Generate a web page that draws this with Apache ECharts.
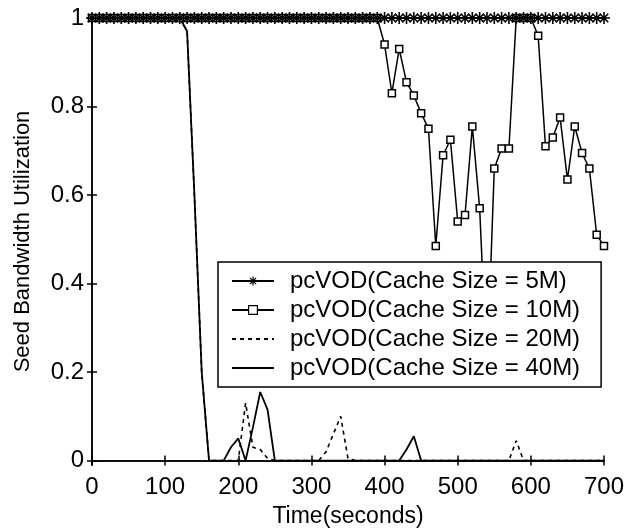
<!DOCTYPE html>
<html>
<head>
<meta charset="utf-8">
<script src="https://cdn.jsdelivr.net/npm/echarts@6/dist/echarts.min.js"></script>
<style>
  html, body { margin: 0; padding: 0; background: #fff; }
  #chart { width: 624px; height: 530px; }
</style>
</head>
<body>
<div id="chart"></div>
<script>
// time axis (seconds), one sample every 10 s
var times = [0, 10, 20, 30, 40, 50, 60, 70, 80, 90, 100, 110, 120, 130, 140, 150, 160, 170, 180, 190,
  200, 210, 220, 230, 240, 250, 260, 270, 280, 290, 300, 310, 320, 330, 340, 350, 360, 370, 380, 390,
  400, 410, 420, 430, 440, 450, 460, 470, 480, 490, 500, 510, 520, 530, 540, 550, 560, 570, 580, 590,
  600, 610, 620, 630, 640, 650, 660, 670, 680, 690, 700]

// cache size = 5M
var cache5M = [1, 1, 1, 1, 1, 1, 1, 1, 1, 1, 1, 1, 1, 1, 1, 1, 1, 1, 1, 1,
  1, 1, 1, 1, 1, 1, 1, 1, 1, 1, 1, 1, 1, 1, 1, 1, 1, 1, 1, 1,
  1, 1, 1, 1, 1, 1, 1, 1, 1, 1, 1, 1, 1, 1, 1, 1, 1, 1, 1, 1,
  1, 1, 1, 1, 1, 1, 1, 1, 1, 1, 1]

// cache size = 10M
var cache10M = [1, 1, 1, 1, 1, 1, 1, 1, 1, 1, 1, 1, 1, 1, 1, 1, 1, 1, 1, 1,
  1, 1, 1, 1, 1, 1, 1, 1, 1, 1, 1, 1, 1, 1, 1, 1, 1, 1, 1, 1,
  0.94, 0.83, 0.93, 0.855, 0.825, 0.785, 0.75, 0.485, 0.69, 0.725, 0.54, 0.555, 0.755, 0.57, 0.2, 0.66, 0.705, 0.705, 1, 1,
  1, 0.96, 0.71, 0.73, 0.775, 0.635, 0.755, 0.695, 0.66, 0.51, 0.485]

// cache size = 20M
var cache20M = [1, 1, 1, 1, 1, 1, 1, 1, 1, 1, 1, 1, 1, 0.97, 0.6, 0.2, 0, 0, 0, 0,
  0, 0.13, 0.03, 0.025, 0.005, 0, 0, 0, 0, 0, 0, 0, 0.02, 0.06, 0.1, 0.005, 0, 0, 0, 0,
  0, 0, 0, 0, 0, 0, 0, 0, 0, 0, 0, 0, 0, 0, 0, 0, 0, 0, 0.045, 0,
  0, 0, 0, 0, 0, 0, 0, 0, 0, 0, 0]

// cache size = 40M
var cache40M = [1, 1, 1, 1, 1, 1, 1, 1, 1, 1, 1, 1, 1, 0.97, 0.6, 0.2, 0, 0, 0, 0.03,
  0.05, 0, 0.075, 0.155, 0.115, 0, 0, 0, 0, 0, 0, 0, 0, 0, 0, 0, 0, 0, 0, 0,
  0, 0, 0, 0.025, 0.055, 0, 0, 0, 0, 0, 0, 0, 0, 0, 0, 0, 0, 0, 0, 0,
  0, 0, 0, 0, 0, 0, 0, 0, 0, 0, 0]

var seriesNames = ['pcVOD(Cache Size = 5M)', 'pcVOD(Cache Size = 10M)', 'pcVOD(Cache Size = 20M)', 'pcVOD(Cache Size = 40M)']
var yTicks = [0, 0.2, 0.4, 0.6, 0.8, 1]

var FONT = '"Liberation Sans", Arial, sans-serif'
// asterisk marker, drawn with strokes only
var STAR = 'path://M0,5L10,5M5,0L5,10M1.5,1.5L8.5,8.5M8.5,1.5L1.5,8.5'

function pairs (ys) {
  return times.map(function (t, i) { return [t, ys[i]] })
}

var axisLine = { lineStyle: { color: '#000', width: 1.5 } }
var xTick = { inside: true, length: 5, lineStyle: { color: '#000', width: 1.5 } }
var yTick = { inside: true, length: 5, customValues: yTicks, lineStyle: { color: '#000', width: 1.5 } }

var chart = echarts.init(document.getElementById('chart'))

var option = {
  backgroundColor: '#fff',
  animation: false,
  textStyle: { fontFamily: FONT, color: '#000' },
  grid: { left: 92, right: 20, top: 18, bottom: 65, outerBoundsMode: 'none' },
  legend: {
    data: seriesNames,
    z: 10,
    orient: 'vertical',
    left: 218,
    top: 262,
    padding: [7, 21, 7, 13],
    itemWidth: 42,
    itemHeight: 11,
    itemGap: 5,
    backgroundColor: '#fff',
    borderColor: '#000',
    borderWidth: 1.5,
    itemStyle: { borderWidth: 1.2 },
    textStyle: { fontFamily: FONT, fontSize: 24, color: '#000', lineHeight: 24, padding: [0, 0, 0, 11] }
  },
  xAxis: [
    {
      type: 'value',
      min: 0,
      max: 700,
      interval: 100,
      name: 'Time(seconds)',
      nameLocation: 'middle',
      nameGap: 40,
      nameTextStyle: { fontFamily: FONT, fontSize: 23, color: '#000' },
      axisLine: axisLine,
      axisTick: xTick,
      axisLabel: { fontFamily: FONT, fontSize: 24, color: '#000', margin: 10 },
      splitLine: { show: false }
    },
    {
      type: 'value',
      position: 'top',
      min: 0,
      max: 700,
      interval: 100,
      axisLine: axisLine,
      axisTick: xTick,
      axisLabel: { show: false },
      splitLine: { show: false }
    }
  ],
  yAxis: [
    {
      type: 'value',
      min: -0.01,
      max: 1,
      name: 'Seed Bandwidth Utilization',
      nameLocation: 'middle',
      nameGap: 58,
      nameTextStyle: { fontFamily: FONT, fontSize: 22, color: '#000' },
      axisLine: axisLine,
      axisTick: yTick,
      axisLabel: { fontFamily: FONT, fontSize: 24, color: '#000', margin: 8, customValues: yTicks },
      splitLine: { show: false }
    },
    {
      type: 'value',
      position: 'right',
      min: -0.01,
      max: 1,
      axisLine: axisLine,
      axisTick: yTick,
      axisLabel: { show: false, customValues: yTicks },
      splitLine: { show: false }
    }
  ],
  // drawn bottom-up: 40M, 20M, 10M, then the 5M stars on top
  series: [
    {
      name: seriesNames[3],
      type: 'line',
      data: pairs(cache40M),
      showSymbol: false,
      symbol: 'circle',
      lineStyle: { color: '#000', width: 1.8 },
      itemStyle: { color: 'transparent', borderWidth: 0 }
    },
    {
      name: seriesNames[2],
      type: 'line',
      data: pairs(cache20M),
      showSymbol: false,
      symbol: 'circle',
      lineStyle: { color: '#000', width: 1.6, type: [4, 4] },
      itemStyle: { color: 'transparent', borderWidth: 0 }
    },
    {
      name: seriesNames[1],
      type: 'line',
      data: pairs(cache10M),
      symbol: 'rect',
      symbolSize: 7,
      lineStyle: { color: '#000', width: 1.5 },
      itemStyle: { color: '#fff', borderColor: '#000', borderWidth: 1.5 }
    },
    {
      name: seriesNames[0],
      type: 'line',
      data: pairs(cache5M),
      symbol: STAR,
      symbolSize: 12,
      lineStyle: { color: '#000', width: 2 },
      itemStyle: { color: '#000', borderColor: '#000', borderWidth: 1.6 }
    }
  ]
}

chart.setOption(option)
</script>
</body>
</html>
